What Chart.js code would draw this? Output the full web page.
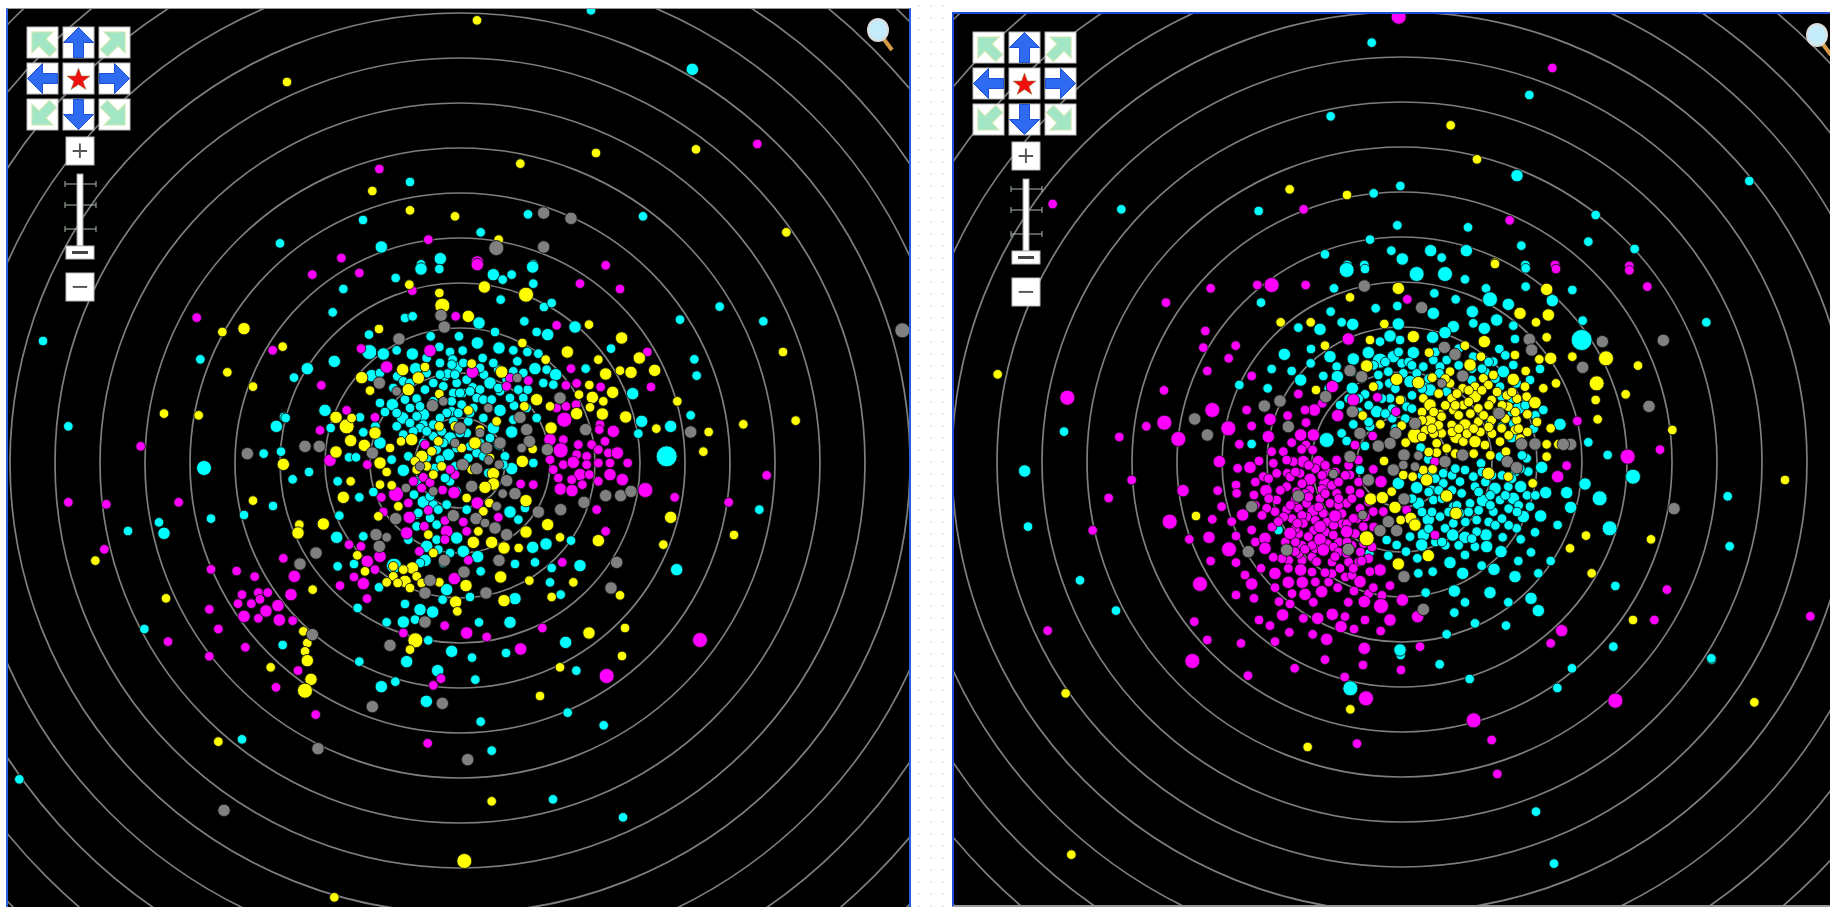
<!DOCTYPE html>
<html>
<head>
<meta charset="utf-8">
<title>Radial scatter</title>
<script src="https://cdn.jsdelivr.net/npm/chart.js@4/dist/chart.umd.min.js"></script>
<style>
  html, body { margin: 0; padding: 0; background: #fff; overflow: hidden; }
  body { width: 1830px; height: 907px; position: relative; font-family: "DejaVu Sans", sans-serif; }
  .panel { position: absolute; background: #000; }
  #panelLeft { left: 8px; top: 8px; width: 901px; height: 899px; border-left: 2px solid #2a5fe0; border-right: 2px solid #2a5fe0; border-top: 1px solid #999; margin-left: -2px; }
  #panelRight { left: 954px; top: 14px; width: 876px; height: 891px; border-left: 2px solid #1f4fd8; border-top: 2px solid #1f4fd8; border-bottom: 2px solid #999; margin-left: -2px; margin-top: -2px; }
  canvas { position: absolute; left: 0; top: 0; filter: blur(0.45px); }
  #gap { position: absolute; left: 913px; top: 0; width: 39px; height: 907px;
    background-image: radial-gradient(#d8d8d8 0.6px, transparent 0.8px); background-size: 12px 12px; }
  .controls, .lens { position: absolute; filter: blur(0.4px); }
</style>
</head>
<body>
<div id="gap"></div>
<div class="panel" id="panelLeft"><canvas id="chartLeft" width="901" height="899"></canvas></div>
<div class="panel" id="panelRight"><canvas id="chartRight" width="876" height="891"></canvas></div>
<script>
// ring distances around the origin, same for both plots
const ringValues = [135, 270, 405, 540, 675, 810, 945, 1080, 1215, 1350, 1485, 1620, 1755, 1890, 2025];
// size class -> marker radius
const sizeClasses = [0, 4.8, 6.2, 7.5, 10.5];

// left plot: [x, y, size class] (class 1 when left out)
const leftCyan = [[393,1358],[697,1181,2],[-150,843],[204,746],[549,740],[-291,729],[-540,659],[-236,648,2],[62,692],[-59,613,2],[-117,596],[220,596],
[-1251,366],[-779,311],[-1175,110],[-551,110,2],[-768,-15,3],[-589,28],[-537,34],[-561,-129],[-648,-156],[-747,-167],[-903,-178],[-888,-211,2],[-996,-204],[-947,-498],[-532,-546],[-528,138],
[779,469],[910,425],[710,262],[703,311],[898,-140],
[-302,-596],[-160,-596,2],[-67,-623,2],[36,-584],[349,-623],[46,-650],[-194,-656],[-236,-671,2],[-101,-715,2],[323,-749],[62,-776],[431,-787],[-654,-829],[95,-863],[279,-1009],[489,-1063],[-1322,-949],
[-193,555],[-350,522],[-117,582,2],[-62,582],[100,565,2],[128,550],[155,565],[218,588,2],[220,538],
[122,490],[252,468],[275,480],[-382,452],[193,425],[-165,435],[-142,440],[57,420,2],[345,408,2],[660,430],
[-273,385],[-88,380],[-3,380],[105,393],[230,393],[263,385,2],[-190,338],[-143,327,2],[-62,348],[52,360,2],[117,345,2],[160,338],[202,333],[235,328],[453,343],[-30,333],[8,337],[-272,333,3],[-230,327,2],[-377,305,2],[68,315],
[-458,283,2],[-498,256],[-265,262,2],[-188,260],[-170,245],[-133,283,2],[-80,240],[-45,260],[-22,310],[-10,285,2],[-37,268],[-60,265],[72,265],[115,280],[160,275],[172,305],[225,283,2],[260,280],[287,265,2],[90,240,2],[38,227],[-10,240],[377,283],[518,208,2],[203,220],[280,235],[-105,220],[8,210],[175,220],[60,220],[-20,210],
[-165,190],[-203,175,2],[-225,153],[-405,158,2],[-300,137],[-523,135],[-130,193],[-80,185],[-25,185],[50,195],[5,175],[70,190],[-110,145,2],[-172,135,2],[-25,155],[120,158,2],[162,172],[40,165],[70,135],[100,105,2],[155,93,2],[230,135],[-110,115],[-80,115],[-20,125],[545,125,2],[632,110,2],[692,143],[-254,110],[-388,105],[-130,140],[25,125],[535,88],
[-290,92],[-240,60,2],[-30,75,2],[-80,80],[-155,20],[-120,105],[-333,17],[-312,17],[118,57,2],[-35,25,2],[135,20],[-70,40],[30,50],[50,30],[620,20,4],[-100,15],[-10,45],
[-170,-22,2],[-453,-27],[-502,-49],[-367,-55],[155,-17,2],[220,0],[-30,-55],[-302,-103],[-260,-87],[-138,-95],[130,-5],[-10,-85],
[-110,-117,2],[20,-140],[150,-147,2],[195,-135],[-362,-158],[175,-170],[-70,-185],[-130,-190],
[-370,-223,2],[-10,-225,2],[333,-233],[-100,-250,2],[218,-253,2],[258,-243,2],[-290,-220],[10,-265,2],[53,-281,2],[-105,-292,2],
[-198,-308,3],[-318,-303],[-367,-310],[165,-303],[225,-298],[275,-315],[360,-308,2],[650,-320,2],[62,-325],[270,-358],[-243,-373],[-40,-380,2],[302,-395],
[165,-407,2],[-52,-410],[30,-402],[-165,-423],[-307,-435],[-120,-440,2],[-82,-447,2],[-220,-478],[-170,-477,2],[-135,-470],[57,-478],[150,-478,2],
[-95,-532],[317,-538,2],[-25,-565,2],[138,-570],
[-50,230],[-5,150],[-55,95],[30,215],[-150,165],[-190,110],[-40,150],[-140,95],[-110,60],[90,75],[20,90],[60,60],[-60,10],[-15,-10],[-130,-55],[-80,-125],[-40,-125],[-70,-230],[-50,-300],[150,195],[130,225],[200,165],[-130,-155],[-90,-165],
[-240,270],[-200,225],[-150,240],[-100,270],[-15,265],[20,250],[60,285],[100,300],[140,250],[190,270],[250,240],[-240,180],[-190,150],[-150,120],[-60,135],[0,210],[30,150],[95,190],[120,215],[160,130],[190,195],[-120,170],[-50,60],[0,90],[-100,95],[70,20],[-170,85],[-205,10],[-75,-15],[-45,-45],[25,15],[85,-30],[-90,-100],[-125,-150],[-65,-140],[-155,-230],[-65,-260],[-30,-270],[-120,-300],[115,225],[-25,295],[10,300],[-60,300],[-100,315]];

const leftMagenta = [[892,957],[-242,882],[-95,670],[-356,615],[52,603,2],[437,593],
[-790,436],[-562,338],[-958,50],[-1175,-118],[-1061,-124],[-844,-118],[-1067,-259],[-747,-319],[-670,-324],[-616,-341],[-530,-286],[-654,-395],[-666,-422],[-626,-422],[-605,-389],[-577,-389],[-600,-409],[-582,-444,2],[-546,-428,2],[-648,-460,2],[-605,-466],[-542,-471,2],[-752,-439],[-725,-498],[-876,-536],[-644,-553],[-752,-580],
[920,-37],[806,-118],[720,-531,3],
[-486,-623],[-552,-673],[-57,-647],[-80,-667],[440,-639,3],[-433,-755],[-97,-841],
[-443,565],[-302,570],[52,595,2],[360,538],[480,522],[-143,517],[-13,440],[290,413],[-297,343],[-90,337,2],[562,333],[-220,288,2],[37,273,2],[-416,233],[150,255],[205,247],[318,233],[333,283],[350,239],[422,228],[573,228],[140,230],[-340,158],[290,165],[318,170],[313,130,3],[-255,137],[-420,98],[348,175],[420,115],[460,95,2],[-105,55],[-390,8,2],[-278,-5],
[418,100],[270,70,2],[310,70],[435,65],[355,55],[395,55],[302,38,3],[350,25],[380,20],[415,40],[445,30],[472,30,2],[270,10],[310,-5],[340,2,2],[415,0],[503,0],[380,-5],[450,-35,2],[280,-20],[360,-35,2],[295,-45],[335,-50],[388,-35],[415,-55],[487,-50,2],[367,-65],[301,-78,2],[336,-83,2],[450,0],
[-140,-55],[-110,-43],[-90,-59],[-115,-75],[-15,-35],[-192,-93,3],[-52,-81],[-18,-89,2],[182,-63],[220,-65],[-236,-103],[556,-81,3],[-30,-20],[52,-120,2],[644,-103],[-95,-142],[410,-140],[-230,-147],[-152,-163,2],[115,-163],[-45,-173],[-155,-120],[10,-177],[-107,-190],[-160,-210,2],[-40,-205,2],[-45,-230],[20,-205],[-333,-245],[-297,-250],[437,-205],[-122,-265],[-240,-280,2],[25,-292],[-278,-295,2],[307,-298],[-255,-320],[-318,-342],[-290,-362,2],[-497,-340,2],[-360,-368],[-17,-347,2],[-507,-395,2],[-279,-407],[-502,-473],[-46,-488],[247,-495],[20,-510,2],[-170,-510],[80,-522],[182,-558,2]];

const leftYellow = [[51,1328],[-519,1143],[408,930],[181,898],[708,941],[-263,816],[-150,758],[-15,740],[979,692],[116,670],
[-713,393],[-648,403,2],[-532,349],[-698,272],[-621,229],[-888,148],[-784,143],[-621,-113],[-530,-4,2],[-1094,-293],[-882,-406],
[969,333],[1007,127],[850,116],[746,93],[730,34],[822,-216],
[73,528,2],[198,505,3],[-152,535],[-62,510],[-53,472,3],[25,440,2],[387,415],[-243,402],[485,375,2],[187,360],[322,333,2],[415,310],[538,315,2],[257,310],[-172,280,2],[-105,288],[-295,256,2],[-125,255,2],[35,298],[125,273,2],[-270,217],[437,267,2],[480,277],[513,272,2],[584,278,2],[388,234],[357,205],[-155,220,2],[-62,207],[458,212,2],
[-372,137,2],[-340,110,3],[230,190,2],[193,170],[25,158],[-62,110],[350,148,2],[397,197,2],[390,167],[430,185],[427,147,2],[497,138,2],[270,170],[652,185],[589,103],[273,105,2],[60,100],[110,125],[-325,135],
[-255,90,2],[-328,67,2],[-372,33,2],[-287,53,2],[-177,65],[-145,70,2],[-210,45],[45,60,2],[218,42],[-115,20,2],[-65,65],[5,45],[-85,35],[-240,0,2],[-135,5],[187,5,2],
[-220,-27],[-328,-55],[100,-32,2],[100,-63,2],[75,-73,2],[-240,-65],[-205,-67],[-350,-103,2],[-55,-10],[-130,-20],[-80,-35],[20,-105],[198,-113,2],[88,-120],[90,15],
[-410,-183,2],[632,-163,2],[263,-185,2],[-245,-160],[-482,-185],[-185,-130],[70,-145],[-486,-210,2],[198,-207,2],[415,-233,2],[300,-223],[610,-245],[40,-238,2],[95,-238,2],[132,-255,2],[176,-255],[55,-205],[-95,-215],[-80,-270],[-308,-277],
[-143,-315,2],[-285,-325],[-200,-340],[-165,-355,2],[-130,-340],[-220,-358],[-187,-360],[-150,-375],[122,-342,2],[-62,-358],[18,-368,2],[208,-353],[340,-358],[-442,-380],[480,-397],[132,-413,2],[275,-402],[-13,-417,2],[-8,-445],[495,-495],[387,-510,2],[-134,-532,3],[-150,-560],[-470,-505],[-458,-540],[-465,-565],
[-458,-593,2],[-447,-649,2],[-465,-683,3],[-568,-613],[300,-613],[240,-699],[-725,-836],[95,-1015],[13,-1194,3],[-377,-1303],[486,-579],
[-15,110],[-100,-10],[35,-20],[-200,-310],[-170,-320],[-115,-360]];

const leftGray = [[251,750,2],[333,734,2],[109,645,3],[251,648,2],[-638,28,2],[1327,398,3],
[-53,-721,2],[-263,-731,2],[-426,-857,2],[23,-890,2],[-708,-1042,2],
[-57,443,2],[-47,408,2],[-183,372,2],[-242,240,2],[-190,215],[172,255],[-83,172,2],[300,195,2],[180,137,2],[85,165],[0,105,2],[200,100,2],[377,100,2],[692,93,2],[-50,185],[-465,50,2],[-422,50,2],[-263,30,2],[80,45,2],[208,65,2],[185,45],[262,40,2],[86,8],[50,-17,2],[8,-5,2],[140,-53,2],[-162,-75],[-80,-85],[35,-70,2],[128,-92],[165,-92,2],[117,-5],[437,-98,2],[482,-98,2],[513,-85,2],[372,-118,2],[-20,-158,2],[302,-140,2],[235,-147,2],[-193,-167,2],[48,-167,2],[110,-130],[105,-195,2],[75,-180],[140,-215,2],[-252,-215,2],[-242,-250,2],[-220,-223],[-432,-270,2],[-47,-292,2],[117,-292,2],[470,-298,2],[-480,-303,2],[12,-327,2],[-90,-352,2],[-105,-390,2],[78,-390,2],[453,-375,2],[-105,-477,2],[-443,-515,2],[-210,-547,2],
[60,90],[-15,60],[120,60,2],[-120,-10]];

// right plot
const rightCyan = [[-91,1258],[382,1101],[-214,1037],[345,859,2],[1042,843],[-5,828],[-85,806],[-430,753],[-842,758],[581,741],[-14,710],[198,704],[-96,667],[358,649],[559,661],[698,639],[-32,634],[86,634,2],[193,634,2],[119,613],[-231,623],[1,609,2],[-164,591],[-113,591],[370,591],
[113,-607],[203,-651],[510,-619],[466,-678],[929,-593],[-155,-679,3],[402,-1049],[456,-1205],[-4,-579],
[-1014,91],[-1132,-27,2],[-1122,-194],[-966,-355],[-858,-446],
[913,419],[617,21],[693,-44,3],[977,-103],[593,-109,3],[623,-199,3],[983,-253],[640,-372],[634,-554],[928,-589],
[-166,576,3],[-111,579],[44,564,3],[129,564,3],[189,548],[371,581],[-204,521],[511,516],[-423,478],[97,506],[161,488],[252,521],[264,488,3],[451,484,2],[-79,461],[-14,468],[371,526],
[94,446,2],[211,451,2],[319,473,2],[284,426,2],[542,424],[-214,451],[-246,398,2],[-311,403],[-181,419],[-148,413,2],[-11,414,2],[154,406,2],[214,416],[129,388,2],[247,401,2],[334,409],[-36,378,2],[-66,361],[-6,366],[92,374,2],[339,369],[539,366,4],
[-273,339],[-353,323,2],[-101,328,2],[34,328,2],[-26,316,2],[-66,304,3],[292,339],[214,316],[-216,316,2],[-146,309,2],[-274,296],[-391,279],[-331,273],[134,306],[94,306],[-41,271],[-1,296],[64,286],[-196,286],[-71,261],[4,266],[44,266],[114,286],[274,301],[304,271,2],[334,291],[414,279],
[-488,231],[-304,246,2],[-236,258],[-194,256,2],[-403,221],[-149,221,2],[-38,236],[24,241,2],[69,226],[112,266],[-111,203],[-36,191],[-186,171],[-76,151,2],[-1,186],[14,166],[84,216,2],[134,211],[209,246],[294,226],[344,236],[384,246],[424,156],[349,161,2],[299,196],
[-146,113],[-96,106],[-181,86],[-226,66,3],[-166,63],[-451,54],[-111,48],[-29,131],[404,123],[474,113,2],[559,59],[334,116],[299,106],[329,76,2],[264,116],[56,43],
[237,-4],[189,-24],[214,-44],[124,-34],[379,-29],[374,11],[419,-16,2],[294,16],[79,8],[-126,-24],
[-11,-64,2],[44,-77,2],[124,-64],[174,-59],[219,-74],[279,-79,2],[319,-74],[356,-74,2],[394,-64],[431,-92,2],[494,-92,2],[549,-66,2],[506,-136,2],[49,-124,2],[94,-114],[89,-84],[179,-94],[242,-116,2],[204,-124],[294,-114],[334,-109,2],[384,-134],[364,-164,2],[416,-162,2],[274,-149],[154,-134],
[-371,-204],[79,-172,2],[129,-199],[154,-184],[224,-174],[152,-219,2],[189,-226,2],[252,-219,2],[302,-226],[344,-199],[399,-211],[64,-219,2],[467,-189],[356,-232],[114,-164],[174,-154],[224,-209],[24,-224],
[-98,-274],[-46,-234],[-16,-249],[12,-269],[59,-249,2],[-41,-281],[46,-289],[189,-279],[144,-302,2],[219,-254],[254,-254,2],[297,-269,2],[387,-271],[349,-297],[446,-297],[49,-334],[92,-329],[182,-334,2],[239,-311],[276,-322,2],[339,-344,2],[409,-334],
[71,-392],[157,-387,2],[264,-392,2],[189,-421],[319,-421],[387,-409,2],[409,-446,2],[157,-452],[219,-484],[312,-491],[134,-517],[-6,-564,2],
[-70,230],[-30,160],[30,200],[-130,150],[-60,190],[-20,100],[-100,170],[-160,190],[-220,220],[20,300],[170,290],[250,270],[330,190],[395,100],[360,20],[270,-40],[150,-40],[90,-30],[30,-110],[120,-110],[165,-130],[230,-145],[320,-140],[350,-130],[260,-180],[190,-180],[300,-170],[100,-240],[130,-250],[80,-90],[250,-60],[340,-30],[300,-40],
[-120,250],[-85,290],[-50,300],[-10,330],[30,290],[80,250],[100,330],[170,340],[210,280],[260,300],[310,320],[-150,270],[-100,120],[-50,145],[-130,190],[-20,220],[30,160],[10,130],[60,220],[240,280],[280,250],[330,150],[370,170],[400,140],[100,-50],[60,-40],[160,-20],[240,-30],[330,-50],[355,-20],[90,-150],[140,-150],[200,-150],[265,-130],[310,-100],[345,-150],[120,-240],[170,-250],[210,-230],[280,-190],[320,-190],[80,-200],[40,-180],[60,-150],[230,-90],[150,-85],[110,-85],[265,-100],[375,-100],[400,-100]];

const rightMagenta = [[-10,1336,3],[451,1182],[-1048,774],[-295,758],[323,725],[459,591],[682,588],
[-629,-597,3],[-462,-641],[-322,-619],[-231,-593],[-117,-609],[-3,-624],[-172,-645],[-108,-709,3],[640,-716,3],[215,-775,3],[269,-834],[-135,-845],[286,-936],
[-708,478],[-1004,193,3],[-714,215],[-767,107],[-713,118,3],[-848,75],[-671,69,3],[-811,-54],[-880,-108],[-657,-86,2],[-928,-205],[-697,-179,3],[-1063,-506],
[682,575],[736,526],[677,16,3],[774,37],[795,-383],[757,-474],[1225,-463],
[-574,521],[-434,531],[-391,531,3],[-289,531],[462,579],[16,488],[-590,393],[-161,369,2],[-596,343],[-499,349],[-520,311],[-584,273],[-451,258],
[-209,226,2],[-311,204],[-146,186,2],[-74,194],[-239,176],[-263,156,2],[-291,156],[-466,156],[-569,156,3],
[-343,139],[-193,139,2],[-396,128,2],[-288,118],[-521,101,3],[-451,108],[-18,151],[-488,53],[-401,76,2],[-304,81,2],[-266,81,2],[-331,58],[-288,51],[-88,78],[-141,51],[526,123],
[-548,1,2],[-429,3],[-493,-19],[-391,31],[-356,31],[-301,38],[-268,36],[-296,1,2],[-251,1,2],[-196,6],[-326,1],[-456,-16,2],[-386,-4],[-346,6],[-416,-44],[-376,-34],[-344,-34],[-276,-52,2],[-226,-29],[-306,-34],[-156,-39],[-131,6],[-86,-22],[-63,-59,2],[494,-11],[467,-44,2],[99,1],
[-553,-86],[-498,-69],[-496,-94],[-408,-86,2],[-444,-99],[-541,-134],[-376,-114],[-346,-74],[-316,-89],[-276,-84],[-231,-66,2],[-196,-94],[-156,-84],[-246,-109],[-381,-149],[-406,-139],[-478,-159,2],[-346,-144],[-311,-139],[-266,-146,2],[-166,-124],[-216,-124],[-126,-94],[-126,-139],
[-321,-114],[-286,-124],[-236,-154],[-190,-130],[-150,-110],[-240,-82],[-300,-65],[-365,-85],[-330,-170],[-285,-165],[-225,-180],[-180,-185],[-140,-215],[-115,-245],[-150,-250],[-190,-240],[-225,-245],[-265,-205],[-310,-215],[-350,-240],[-390,-195],[-300,-250],[-270,-285],[-210,-300],[-160,-300],[-125,-270],[-90,-255],[-85,-195],
[-260,-20],[-210,-70],[-170,-40],[-200,-30],[-335,-45],[-290,-95],[-250,-135],[-180,-155],[-135,-170],[-100,-120],[-105,-60],[-320,-240],[-260,-260],[-205,-255],[-165,-240],[-130,-300],[-100,-290],[-300,-295],[-340,-295],[-420,-160],[-440,-240],[-270,-330],[-220,-360],[-170,-345],[-100,-395],[-60,-400],[-400,-50],[-440,-60],[-230,-10],[-160,-10],
[-320,-30],[-280,-10],[-240,-40],[-190,-60],[-130,-60],[-280,-105],[-230,-95],[-190,-110],[-335,-130],[-300,-160],[-260,-175],[-205,-190],[-165,-185],[-110,-165],[-230,-210],[-190,-270],[-270,-250],[-320,-200],[-355,-165],[-400,-110],[-440,-130],[-360,-290],[-310,-275],[-150,-340],[-210,-335],[-260,-360],[-330,-395],
[-569,-172],[-511,-179],[-638,-232],[-579,-226,2],[-498,-222],[-451,-204],[-411,-229,2],[-371,-179],[-336,-214,2],[-296,-184],[-246,-194,2],[-201,-162,2],[-246,-232,2],[-166,-209,2],[-116,-194],[-281,-224],[-206,-219],[-314,-184],[-146,-169],[-86,-149],[-56,-149],[99,-219],[14,-144],
[-519,-262,3],[-411,-259,2],[-574,-297],[-498,-302],[-423,-319],[-386,-286],[-321,-269],[-291,-262],[-236,-264,2],[-166,-274],[-201,-284],[-121,-297],[-256,-299],[-304,-324,2],[-381,-334,2],[-341,-319],[-66,-324,2],[-96,-329],[-146,-319],[-231,-332],[-186,-319],[-471,-339],
[-606,-366,3],[-451,-366,2],[-341,-361,2],[-299,-361,2],[-126,-359,2],[-381,-377],[-193,-377],[-86,-377],[-36,-371],[-498,-399],[-444,-409],[-291,-397,2],[-241,-389,2],[-144,-387],[-369,-419],[-336,-426],[-266,-421],[-161,-421],[-113,-419,2],[-63,-432,3],[1,-414,2],[-209,-457,2],[-358,-459,2],
[-429,-474],[-396,-491],[-296,-469],[-253,-469,2],[-171,-464],[-111,-474],[-36,-474,2],[47,-464,2],[-623,-479],[-338,-511],[-183,-494,2],[-144,-501],[-64,-507],[-268,-517],[-584,-534],[-483,-544],[-381,-539],[-226,-532,2],[-113,-559,2],[54,-554],[479,-506,2],[446,-544]];

const rightYellow = [[146,1010],[225,908],[-337,818],[-165,801],[279,598],
[-1009,-694],[-155,-742],[1057,-721],[-283,-855],[-992,-1178],[-1213,263],
[612,311,3],[708,289],[584,236,3],[671,203],[581,186],[587,128],[811,96],[1149,-54],[747,-232],[693,-474],
[279,594],[-11,521,2],[434,518,2],[-156,494],[354,446,2],[439,441,2],[402,419],[-364,419],[-274,419],[-53,414],[34,376,2],[-96,366],[434,374],[247,361,2],[-231,349],[81,328],[189,349],[237,316],[339,321],[412,308],[446,311,2],[511,316],[-106,288,2],[371,273],[204,291,2],[144,271],[244,251],[274,261],
[-16,248,2],[49,238,2],[91,253],[-86,226],[334,248,2],[-258,216],[424,221],[462,236],[144,236],[182,221],[219,226],[259,231],[369,226],[374,196],[399,178,2],[-6,186],[64,191],[84,171,2],[149,191],[184,171],[219,196,2],[269,186],[229,161],[319,166],[114,144],[154,156],
[-118,139],[-65,113],[-1,109],[84,123,2],[189,111,2],[119,136],[149,111],[229,121],[269,126],[344,126],[376,143],[299,101],[446,101],[39,79,3],[162,74,2],[11,58],[119,86],[219,61,2],[249,51],[104,56],[134,41],[339,96],[376,90],[434,53],[469,53],[184,61],[294,61],[434,16],
[-54,3],[104,28],[312,31],[259,-34,2],[64,-24],[92,-22],[4,-39],[32,-44],[74,-54,2],[319,-44],[392,-64],
[-618,-162],[-94,-111,2],[-59,-107,2],[134,-102,2],[-21,-136,2],[-31,-89],[162,-154,2],[26,-169,2],[39,-189,2],[-4,-174],[-106,-229,3],[552,-221],[79,-281,2],[-11,-306,2],[504,-259],[569,-334],
[130,250],[165,205],[200,180],[240,215],[285,210],[315,200],[345,190],[110,205],[95,150],[130,170],[170,140],[205,145],[245,140],[285,150],[310,130],[60,150],[70,95],[95,85],[150,90],[195,85],[235,90],[270,85],[320,80],[355,70],[80,30],[160,25],[215,25],[265,20],[60,125],[330,210],
[170,100],[215,100],[260,105],[110,110],[90,100],[200,215],[160,170],[260,170],[300,170],[340,150],[350,100],[405,120],[60,75]];

const rightGray = [[601,361,2],[784,365,2],[741,167,2],[816,-140,2],
[-113,528,2],[59,463,2],[382,368,2],[127,344,2],[159,323,2],[389,336,2],[542,284,2],[-156,274,2],[182,258,2],[-366,183,2],[-413,168,2],[-229,196,2],[119,236],[-149,151,2],[-622,129,2],[291,146,2],[-121,256,2],[-341,106,2],[39,116,2],[-126,86,2],[-19,86,2],[-584,81,2],[-36,56,2],[-71,48,2],[359,54,2],[399,54,2],[506,53,2],[484,53,2],[-156,16,2],[6,21,2],[-26,-24,2],[129,1,2],[182,21,2],[49,19],[316,1,2],[344,-17,2],[4,-9],[39,-14],[-101,-54,2],[-206,-36],[-451,-134,2],[-311,-102,2],[6,-111,2],[-41,-179,2],[-66,-206,2],[-16,-206,2],[-118,-159],[-461,-269,2],[-346,-264,2],[-161,-262,2],[6,-344,2],[64,-442,2]];

// concentric rings, positioned through the chart's scales
const ringsPlugin = {
  id: 'rings',
  beforeDatasetsDraw(chart) {
    const { ctx, scales: { x, y }, chartArea } = chart;
    const cx = x.getPixelForValue(0);
    const cy = y.getPixelForValue(0);
    ctx.save();
    ctx.beginPath();
    ctx.rect(chartArea.left, chartArea.top, chartArea.width, chartArea.height);
    ctx.clip();
    ctx.strokeStyle = '#7e7e7e';
    ctx.lineWidth = 1.7;
    ringValues.forEach(v => {
      ctx.beginPath();
      ctx.arc(cx, cy, x.getPixelForValue(v) - cx, 0, Math.PI * 2);
      ctx.stroke();
    });
    ctx.restore();
  }
};

function toPoints(list) {
  return list.map(p => ({ x: p[0], y: p[1], s: p[2] || 1 }));
}

function makeDataset(label, list, color) {
  return {
    label,
    data: toPoints(list),
    backgroundColor: color,
    borderColor: 'rgba(20,20,20,0.9)',
    borderWidth: 1,
    pointRadius: c => sizeClasses[c.raw.s]
  };
}

function makeChart(id, sets, xMin, xMax, yMin, yMax) {
  return new Chart(document.getElementById(id), {
    type: 'scatter',
    data: { datasets: sets },
    plugins: [ringsPlugin],
    options: {
      responsive: false,
      animation: false,
      events: [],
      layout: { padding: 0, autoPadding: false },
      plugins: { legend: { display: false }, tooltip: { enabled: false } },
      scales: {
        x: { type: 'linear', display: false, min: xMin, max: xMax },
        y: { type: 'linear', display: false, min: yMin, max: yMax }
      }
    }
  });
}

// the first dataset ends up on top
makeChart('chartLeft', [
  makeDataset('gray', leftGray, '#808080'),
  makeDataset('yellow', leftYellow, '#ffff00'),
  makeDataset('magenta', leftMagenta, '#ff00ff'),
  makeDataset('cyan', leftCyan, '#00ffff')
], -1356, 1347, -1335, 1362);

makeChart('chartRight', [
  makeDataset('gray', rightGray, '#808080'),
  makeDataset('yellow', rightYellow, '#ffff00'),
  makeDataset('magenta', rightMagenta, '#ff00ff'),
  makeDataset('cyan', rightCyan, '#00ffff')
], -1344, 1284, -1329, 1344);

// map navigation controls over each plot
function controlsSvg() {
  const arrow = 'M0,-15 L15,0 L5,0 L5,15 L-5,15 L-5,0 L-15,0 Z';
  const tiles = [[0, 0, -45], [36, 0, 0], [72, 0, 45], [0, 36, -90], [72, 36, 90], [0, 72, -135], [36, 72, 180], [72, 72, 135]];
  let s = '';
  tiles.forEach(t => {
    const diagonal = t[2] % 90 !== 0;
    s += `<rect x="${t[0]}" y="${t[1]}" width="31" height="31" fill="#fff" stroke="#bbb"/>`;
    s += `<path d="${arrow}" fill="${diagonal ? '#a3e6c6' : '#2f6bf0'}" stroke="${diagonal ? '#cfe8b0' : '#1f4fd8'}" transform="translate(${t[0] + 15.5},${t[1] + 15.5}) rotate(${t[2]})"/>`;
  });
  s += '<rect x="36" y="36" width="31" height="31" fill="#fff" stroke="#bbb"/>';
  s += '<path d="M51.5,41 L54.5,49 L63,49 L56,54.5 L59,62.5 L51.5,57.5 L44,62.5 L47,54.5 L40,49 L48.5,49 Z" fill="#f01010" stroke="#884"  stroke-width="0.5"/>';
  s += '<rect x="39" y="110" width="28" height="28" fill="#fff" stroke="#bbb"/>';
  s += '<text x="53" y="131" text-anchor="middle" font-family="DejaVu Sans" font-size="23" fill="#555">+</text>';
  [157, 178, 202].forEach(y => {
    s += `<path d="M38,${y} H69 M38,${y - 3} V${y + 3} M69,${y - 3} V${y + 3}" stroke="#aabbaa" fill="none"/>`;
  });
  s += '<rect x="50" y="147" width="6" height="72" fill="#fff" stroke="#999"/>';
  s += '<rect x="39" y="219" width="28" height="13" fill="#fff" stroke="#bbb"/>';
  s += '<rect x="45" y="224" width="16" height="3" fill="#444"/>';
  s += '<rect x="39" y="246" width="28" height="28" fill="#fff" stroke="#bbb"/>';
  s += '<text x="53" y="267" text-anchor="middle" font-family="DejaVu Sans" font-size="23" fill="#555">\u2212</text>';
  return `<svg width="110" height="280" viewBox="-1 -1 110 280">${s}</svg>`;
}

function lensSvg() {
  return '<svg width="32" height="36" viewBox="0 0 32 36"><path d="M17,20 L26,32" stroke="#d59a45" stroke-width="4"/><ellipse cx="12" cy="12" rx="10" ry="11" fill="#c4ecfb" stroke="#ddd" stroke-width="2"/></svg>';
}

function place(cls, html, left, top) {
  const d = document.createElement('div');
  d.className = cls;
  d.innerHTML = html;
  d.style.left = left + 'px';
  d.style.top = top + 'px';
  document.body.appendChild(d);
}

place('controls', controlsSvg(), 26, 26);
place('controls', controlsSvg(), 972, 31);
place('lens', lensSvg(), 866, 18);
place('lens', lensSvg(), 1805, 23);
</script>
</body>
</html>
